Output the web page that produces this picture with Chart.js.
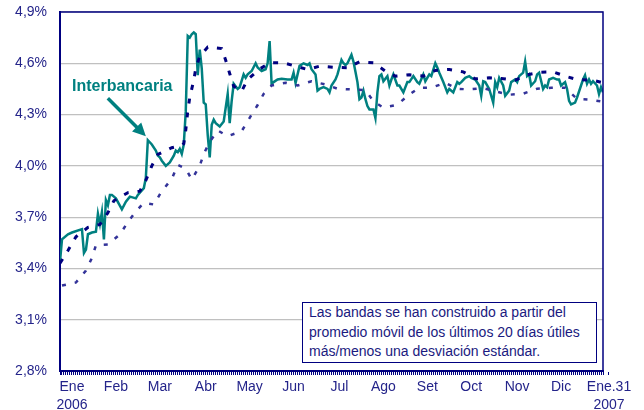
<!DOCTYPE html>
<html lang="es">
<head>
<meta charset="utf-8">
<title>Tasa interbancaria 2006</title>
<script src="https://cdn.jsdelivr.net/npm/chart.js@4.4.1/dist/chart.umd.min.js"></script>
<style>
  html, body { margin: 0; padding: 0; background: #fff; }
  #wrap { position: relative; width: 644px; height: 410px; font-family: "Liberation Sans", Arial, sans-serif; }
  #grafico { position: absolute; left: 0; top: 0; }
  .etiqueta { position: absolute; left: 72px; top: 77px; font-weight: bold; font-size: 16px; color: #008080; white-space: nowrap; }
  .nota { position: absolute; left: 302px; top: 302px; width: 287px; padding: 0 0 0 6px; border: 1.5px solid #000080;
          background: #fff; color: #1a1a80; font-size: 14px; line-height: 19.5px; white-space: nowrap; }
</style>
</head>
<body>
<div id="wrap">
  <canvas id="grafico" width="644" height="410"></canvas>
  <div class="etiqueta">Interbancaria</div>
  <div class="nota">Las bandas se han construido a partir del<br>promedio móvil de los últimos 20 días útiles<br>más/menos una desviación estándar.</div>
</div>
<script>
// ------------------ DATOS ------------------
// Días hábiles contados desde el 2 de enero de 2006
const diasTasa = [0, 1, 4, 6, 11, 12, 13, 14, 16, 18, 19, 20, 21, 22, 23, 24, 25, 26, 28, 31, 33, 35, 38, 39, 42, 43, 44, 46, 48, 49,
    50, 51, 53, 55, 57, 58, 59, 60, 61, 62, 63, 64, 65, 66, 67, 68, 69, 70, 71, 72, 73, 74, 75, 76, 77, 78, 80, 82, 84, 85,
    86, 87, 89, 90, 92, 93, 94, 96, 98, 99, 101, 103, 104, 105, 106, 107, 109, 111, 114, 116, 117, 118, 120, 122, 124, 125, 126, 128, 129, 130,
    132, 134, 135, 136, 138, 139, 141, 142, 143, 144, 146, 147, 148, 149, 150, 151, 152, 153, 154, 155, 157, 158, 159, 160, 161, 162, 164, 165, 166, 167,
    169, 170, 172, 174, 175, 177, 179, 180, 182, 183, 185, 186, 188, 189, 190, 192, 194, 195, 197, 199, 200, 201, 203, 205, 206, 208, 210, 211, 212, 213,
    215, 216, 217, 218, 219, 220, 222, 223, 225, 226, 228, 229, 230, 232, 233, 234, 235, 236, 238, 239, 240, 242, 243, 244, 245, 247, 249, 250, 251, 253,
    254, 255, 256, 258, 259, 261, 262, 263, 264, 265, 266, 267, 269, 270, 271, 272];
const tasa = [3.44, 3.57, 3.60, 3.61, 3.63, 3.49, 3.51, 3.60, 3.61, 3.615, 3.72, 3.66, 3.73, 3.57, 3.80, 3.77, 3.83, 3.83, 3.81, 3.745, 3.79, 3.82, 3.81, 3.83, 3.87, 3.93, 4.15, 4.125, 4.09, 4.06,
    4.05, 4.03, 4.00, 4.02, 4.06, 4.09, 4.08, 4.10, 4.07, 4.125, 4.32, 4.76, 4.75, 4.77, 4.78, 4.77, 4.53, 4.68, 4.57, 4.37, 4.36, 4.18, 4.05, 4.24, 4.27, 4.25, 4.23, 4.26, 4.42, 4.25,
    4.38, 4.48, 4.45, 4.46, 4.535, 4.515, 4.535, 4.555, 4.60, 4.575, 4.555, 4.565, 4.60, 4.73, 4.48, 4.49, 4.505, 4.51, 4.505, 4.505, 4.545, 4.485, 4.585, 4.60, 4.59, 4.60, 4.565, 4.535, 4.44, 4.45,
    4.46, 4.45, 4.43, 4.47, 4.505, 4.535, 4.62, 4.60, 4.59, 4.60, 4.65, 4.61, 4.55, 4.49, 4.39, 4.40, 4.44, 4.39, 4.35, 4.33, 4.33, 4.28, 4.43, 4.525, 4.535, 4.495, 4.525, 4.47, 4.505, 4.535,
    4.47, 4.47, 4.43, 4.49, 4.49, 4.525, 4.49, 4.48, 4.535, 4.495, 4.535, 4.525, 4.60, 4.575, 4.545, 4.49, 4.43, 4.45, 4.43, 4.49, 4.48, 4.49, 4.515, 4.525, 4.515, 4.505, 4.47, 4.41, 4.495, 4.49,
    4.45, 4.41, 4.37, 4.49, 4.46, 4.515, 4.47, 4.41, 4.44, 4.49, 4.505, 4.49, 4.525, 4.545, 4.61, 4.525, 4.535, 4.47, 4.495, 4.535, 4.545, 4.45, 4.47, 4.46, 4.505, 4.515, 4.505, 4.505, 4.47, 4.49,
    4.45, 4.38, 4.36, 4.37, 4.40, 4.47, 4.505, 4.53, 4.48, 4.505, 4.48, 4.495, 4.47, 4.42, 4.46, 4.43];

// Banda superior: promedio móvil 20 días + 1 desviación estándar
const diasSup = [0, 4, 8, 14, 20, 24, 27, 34, 40, 43, 46, 49, 56, 61, 62, 63, 64, 65, 66, 67, 68, 70, 74, 81, 83, 85, 87, 91, 94, 100,
    105, 112, 118, 124, 130, 137, 144, 150, 157, 163, 168, 175, 182, 188, 195, 202, 208, 215, 221, 228, 234, 241, 247, 253, 259, 267, 272];
const bandaSup = [3.43, 3.505, 3.585, 3.64, 3.657, 3.726, 3.796, 3.843, 3.852, 3.915, 4.00, 4.067, 4.106, 4.121, 4.13, 4.21, 4.32, 4.40, 4.45, 4.50, 4.57, 4.64, 4.695, 4.686, 4.618, 4.54, 4.466, 4.437, 4.505, 4.566,
    4.603, 4.603, 4.583, 4.564, 4.583, 4.577, 4.574, 4.609, 4.603, 4.554, 4.525, 4.533, 4.525, 4.558, 4.564, 4.55, 4.509, 4.515, 4.511, 4.501, 4.533, 4.548, 4.55, 4.525, 4.505, 4.501, 4.486];

// Banda inferior: promedio móvil 20 días - 1 desviación estándar
const diasInf = [1, 8, 13, 16, 18, 24, 30, 34, 38, 42, 47, 51, 56, 59, 63, 66, 70, 72, 75, 79, 84, 91, 95, 99, 102, 106, 113, 119, 126, 133,
    139, 146, 153, 157, 162, 169, 175, 180, 186, 193, 199, 205, 212, 219, 225, 232, 239, 246, 253, 259, 265, 272];
const bandaInf = [3.30, 3.318, 3.387, 3.462, 3.536, 3.54, 3.599, 3.671, 3.733, 3.784, 3.774, 3.852, 3.924, 4.006, 3.983, 3.92, 4.00, 4.07, 4.14, 4.207, 4.174, 4.203, 4.281, 4.356, 4.421, 4.47, 4.486, 4.47, 4.495, 4.476,
    4.451, 4.447, 4.443, 4.378, 4.34, 4.358, 4.418, 4.457, 4.457, 4.486, 4.451, 4.447, 4.455, 4.433, 4.416, 4.422, 4.451, 4.457, 4.457, 4.392, 4.388, 4.375];

// Ejes
const ticksY = [2.8, 3.1, 3.4, 3.7, 4.0, 4.3, 4.6, 4.9];
const diasMes = [6, 28, 50, 73, 95, 117, 140, 162, 184, 206, 229, 251, 275];
const etiquetasMes = [["Ene", "2006"], "Feb", "Mar", "Abr", "May", "Jun", "Jul", "Ago", "Set", "Oct", "Nov", "Dic", ["Ene.31", "2007"]];
const ultimoDia = 272;
const diaFlecha = 44; // pico de marzo señalado por la flecha

// ------------------ COLORES ------------------
const AZUL = "#000080";
const AZUL_CLARO = "#333399";
const VERDE = "#008080";
const TEXTO = "#24248a";

// ------------------ HELPERS ------------------
function puntos(dias, valores) {
    return dias.map((d, i) => ({ x: d, y: valores[i] }));
}

// Marco superior/derecho y flecha de la etiqueta
const marcoYFlecha = {
    id: "marcoYFlecha",
    afterDatasetsDraw(chart) {
        const { ctx, chartArea: a, scales } = chart;
        ctx.save();
        ctx.strokeStyle = AZUL;
        ctx.lineWidth = 1.5;
        ctx.beginPath();
        ctx.moveTo(a.left, a.top);
        ctx.lineTo(a.right, a.top);
        ctx.lineTo(a.right, a.bottom);
        ctx.stroke();

        // flecha hacia el pico
        const px = scales.x.getPixelForValue(diaFlecha);
        const py = scales.y.getPixelForValue(tasa[diasTasa.indexOf(diaFlecha)]);
        const tip = { x: px - 2, y: py - 4 };
        const tail = { x: tip.x - 38, y: tip.y - 38 };
        const len = Math.hypot(tip.x - tail.x, tip.y - tail.y);
        const ux = (tip.x - tail.x) / len, uy = (tip.y - tail.y) / len;
        const head = 13, half = 6.5;
        ctx.strokeStyle = VERDE;
        ctx.fillStyle = VERDE;
        ctx.lineWidth = 3.5;
        ctx.beginPath();
        ctx.moveTo(tail.x, tail.y);
        ctx.lineTo(tip.x - ux * (head - 2), tip.y - uy * (head - 2));
        ctx.stroke();
        ctx.beginPath();
        ctx.moveTo(tip.x, tip.y);
        ctx.lineTo(tip.x - ux * head - uy * half, tip.y - uy * head + ux * half);
        ctx.lineTo(tip.x - ux * head + uy * half, tip.y - uy * head - ux * half);
        ctx.closePath();
        ctx.fill();
        ctx.restore();
    }
};

// ------------------ GRÁFICO ------------------
Chart.defaults.font.family = '"Liberation Sans", Arial, sans-serif';

new Chart(document.getElementById("grafico"), {
    type: "line",
    data: {
        datasets: [
            {
                label: "Banda superior",
                data: puntos(diasSup, bandaSup),
                borderColor: AZUL,
                borderWidth: 3,
                borderDash: [5, 9],
                pointRadius: 0,
                order: 1
            },
            {
                label: "Banda inferior",
                data: puntos(diasInf, bandaInf),
                borderColor: AZUL_CLARO,
                borderWidth: 2.5,
                borderDash: [4, 9],
                pointRadius: 0,
                order: 2
            },
            {
                label: "Interbancaria",
                data: puntos(diasTasa, tasa),
                borderColor: VERDE,
                borderWidth: 2.5,
                pointRadius: 0,
                order: 3
            }
        ]
    },
    options: {
        responsive: false,
        animation: false,
        events: [],
        layout: { padding: { top: 12, right: 41, bottom: 0, left: 0 } },
        plugins: {
            legend: { display: false },
            tooltip: { enabled: false }
        },
        scales: {
            x: {
                type: "linear",
                min: 0,
                max: ultimoDia,
                afterBuildTicks: (s) => {
                    const t = [];
                    for (let d = 0; d <= ultimoDia; d++) t.push({ value: d });
                    t.push({ value: diasMes[diasMes.length - 1] });
                    s.ticks = t;
                },
                afterFit: (s) => { s.height = 39; },
                grid: { drawOnChartArea: false, drawTicks: true, tickLength: 4, color: AZUL, lineWidth: 1 },
                border: { color: AZUL, width: 2 },
                ticks: {
                    autoSkip: false,
                    maxRotation: 0,
                    minRotation: 0,
                    padding: 3,
                    color: TEXTO,
                    font: { size: 14, lineHeight: 1.3 },
                    callback: (v) => {
                        const i = diasMes.indexOf(v);
                        return i >= 0 ? etiquetasMes[i] : "";
                    }
                }
            },
            y: {
                min: 2.8,
                max: 4.9,
                afterBuildTicks: (s) => { s.ticks = ticksY.map(v => ({ value: v })); },
                afterFit: (s) => { s.width = 60; },
                // separación de las etiquetas con marcas invisibles, así no se agranda el margen superior
                grid: { color: "#c0c0c0", lineWidth: 1.2, drawTicks: true, tickLength: 13, tickColor: "rgba(0,0,0,0)" },
                border: { color: AZUL, width: 2 },
                ticks: {
                    padding: 0,
                    color: TEXTO,
                    font: { size: 14 },
                    callback: (v) => v.toFixed(1).replace(".", ",") + "%"
                }
            }
        }
    },
    plugins: [marcoYFlecha]
});
</script>
</body>
</html>
